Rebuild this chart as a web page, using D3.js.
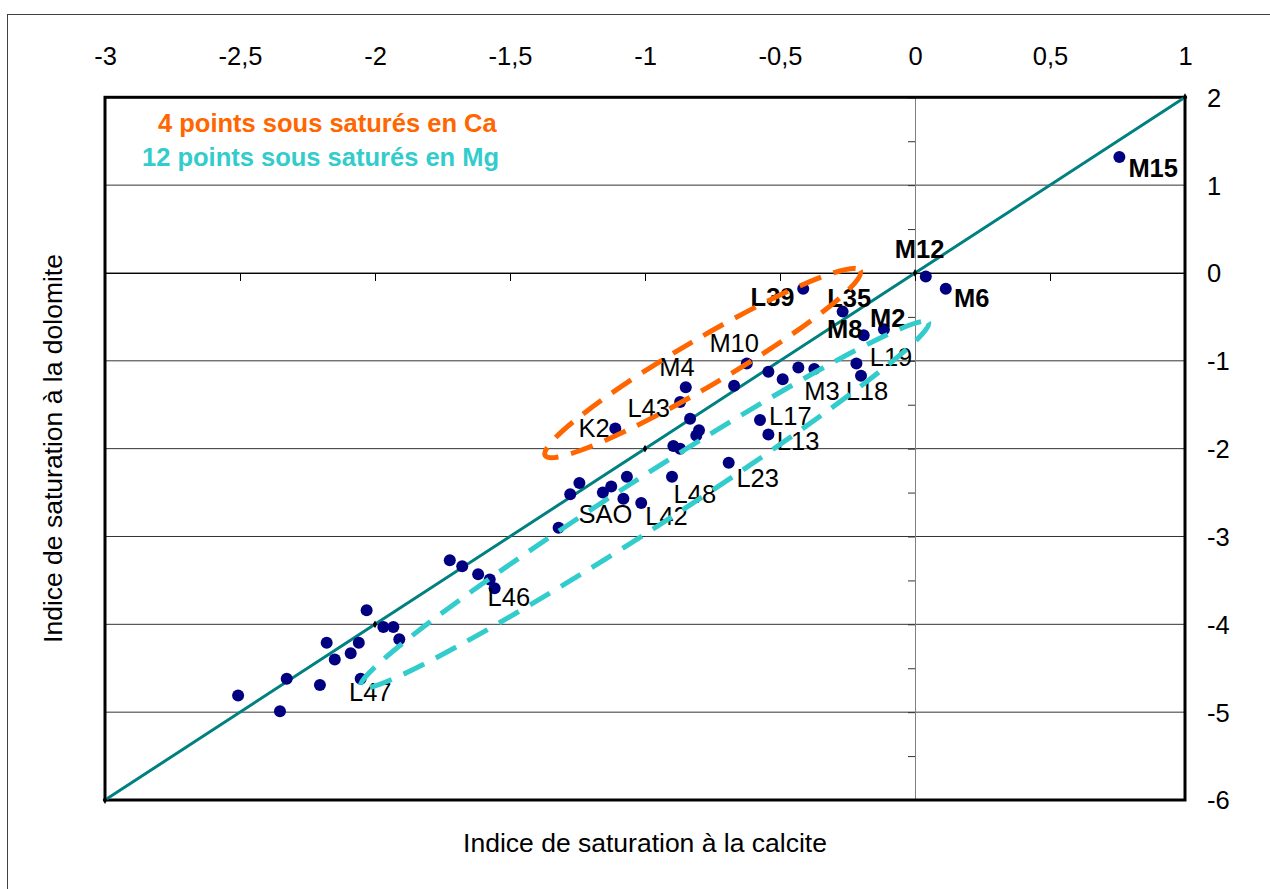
<!DOCTYPE html>
<html>
<head>
<meta charset="utf-8">
<script src="https://cdn.jsdelivr.net/npm/d3@7"></script>
<style>
  html, body { margin: 0; padding: 0; background: #fff; }
  svg { display: block; font-family: Arial, "Liberation Sans", sans-serif; }
</style>
</head>
<body>
<svg id="chart" width="1270" height="889"></svg>
<script>
// ---------------- data ----------------
const calcite = [0.757, 0.04, 0.114, -0.414, -0.268, -0.19, -0.115, -0.217, -0.2, -0.373,
  -0.432, -0.49, -0.543, -0.623, -0.67, -0.849, -0.87, -0.833, -0.80, -0.81,
  -0.895, -0.87, -1.11, -0.574, -0.543, -0.69, -0.90, -1.067, -1.125, -1.156,
  -1.243, -1.277, -1.08, -1.014, -1.32, -1.723, -1.677, -1.618, -1.575, -1.557,
  -2.031, -1.969, -1.932, -1.91, -2.06, -2.179, -2.09, -2.149, -2.327, -2.053,
  -2.204, -2.507, -2.352];
const dolomite = [1.32, -0.04, -0.18, -0.18, -0.44, -0.71, -0.64, -1.03, -1.17, -1.094,
  -1.075, -1.21, -1.125, -1.03, -1.284, -1.30, -1.47, -1.66, -1.79, -1.85,
  -1.97, -2.0, -1.77, -1.675, -1.84, -2.16, -2.32, -2.32, -2.43, -2.5,
  -2.39, -2.52, -2.57, -2.62, -2.90, -3.27, -3.34, -3.43, -3.49, -3.59,
  -3.84, -4.03, -4.03, -4.17, -4.21, -4.21, -4.33, -4.40, -4.62, -4.62,
  -4.69, -4.81, -4.99];
const pointLabels = ["M15", "M12", "M6", "L39", "L35", "M8", "M2", "L19", "L18", "M3",
  "", "", "", "M10", "", "M4", "L43", "", "", "",
  "", "", "K2", "L17", "L13", "L23", "L48", "", "", "SAO",
  "", "", "", "L42", "", "", "", "", "", "L46",
  "", "", "", "", "", "", "", "", "", "L47",
  "", "", ""];
const boldLabels = ["M15", "M12", "M6", "L39", "L35", "M8", "M2"];

// 1:1 reference line (dolomite = 2 x calcite)
const refLineX = [-3, -2, -1, 0, 1];
const refLineY = [-6, -4, -2, 0, 2];

const xTicks = [-3, -2.5, -2, -1.5, -1, -0.5, 0, 0.5, 1];
const yTicks = [-6, -5, -4, -3, -2, -1, 0, 1, 2];
const yMinorTicks = [-6, -5.5, -5, -4.5, -4, -3.5, -3, -2.5, -2, -1.5, -1, -0.5, 0, 0.5, 1, 1.5, 2];

const xTitle = "Indice de saturation à la calcite";
const yTitle = "Indice de saturation à la dolomite";
const noteCa = "4 points sous saturés en Ca";
const noteMg = "12 points sous saturés en Mg";

// enclosing dashed ellipses, tips given in data units
const ellipseCaTips = [[-1.367, -2.093], [-0.2, 0.012]];
const ellipseMgTips = [[-2.048, -4.745], [0.056, -0.591]];

// ---------------- layout ----------------
const labelOffsets = {
  M15: [9, 20.3], M12: [-31, -18.7], M6: [8.3, 18.3], L39: [-52.6, 17.7],
  L35: [-15.4, -5], M8: [-36.6, 2.7], M2: [-14, -2.6], M10: [-37.4, -11.6],
  M4: [-26.4, -11.6], L43: [-52.7, 15], K2: [-36.7, 8.4], L17: [9, 5],
  L13: [8.4, 15.7], M3: [-10, 31], L18: [-15.3, 24.3], L19: [13.3, 2.7],
  L23: [7.7, 24.4], L48: [1.6, 26.6], SAO: [-24.4, 30.6], L42: [4, 21.7],
  L46: [-7, 18], L47: [-11.7, 22.4]
};

const svg = d3.select("#chart");
const plot = { left: 105, right: 1185, top: 97.3, bottom: 800 };
const x = d3.scaleLinear().domain([-3, 1]).range([plot.left, plot.right]);
const y = d3.scaleLinear().domain([-6, 2]).range([plot.bottom, plot.top]);
const fmt = d => String(d).replace(".", ",");
const FS = 25.5;

// outer frame
svg.append("rect").attr("x", 7.5).attr("y", 14.5).attr("width", 1400).attr("height", 1000)
  .attr("fill", "none").attr("stroke", "#404040").attr("stroke-width", 1);

// horizontal gridlines
svg.append("g").selectAll("line").data(yTicks).join("line")
  .attr("x1", plot.left).attr("x2", plot.right)
  .attr("y1", d => y(d)).attr("y2", d => y(d))
  .attr("stroke", "#333").attr("stroke-width", 1);

// vertical axis at x = 0 with ticks
const yAxisG = svg.append("g").attr("transform", `translate(${x(0)},0)`)
  .call(d3.axisLeft(y).tickValues(yMinorTicks).tickSize(7).tickFormat(""));
yAxisG.select(".domain").attr("stroke", "#808080");
yAxisG.selectAll(".tick line").attr("stroke", "#333");

// horizontal axis at y = 0 with ticks downward
const xAxisG = svg.append("g").attr("transform", `translate(0,${y(0)})`)
  .call(d3.axisBottom(x).tickValues(xTicks).tickSize(8).tickFormat(""));
xAxisG.select(".domain").attr("stroke", "#000");
xAxisG.selectAll(".tick line").attr("stroke", "#000");

// tick labels, top (x) and right (y)
const xLab = svg.append("g").attr("transform", "translate(0,65)")
  .call(d3.axisTop(x).tickValues(xTicks).tickSize(0).tickPadding(0).tickFormat(fmt));
xLab.select(".domain").remove();
xLab.selectAll("text").attr("font-size", FS).attr("font-family", "Arial, 'Liberation Sans', sans-serif")
  .attr("fill", "#000").attr("dy", 0);

const yLab = svg.append("g").attr("transform", "translate(1207,0)")
  .call(d3.axisRight(y).tickValues(yTicks).tickSize(0).tickPadding(0).tickFormat(fmt));
yLab.select(".domain").remove();
yLab.selectAll("text").attr("font-size", FS).attr("font-family", "Arial, 'Liberation Sans', sans-serif")
  .attr("fill", "#000").attr("dy", "0.35em");

// plot border
svg.append("rect").attr("x", plot.left).attr("y", plot.top)
  .attr("width", plot.right - plot.left).attr("height", plot.bottom - plot.top)
  .attr("fill", "none").attr("stroke", "#000").attr("stroke-width", 3);

// reference line
const refData = refLineX.map((v, i) => [v, refLineY[i]]);
svg.append("path").datum(refData)
  .attr("d", d3.line().x(d => x(d[0])).y(d => y(d[1])))
  .attr("fill", "none").attr("stroke", "#008080").attr("stroke-width", 3);
svg.append("g").selectAll("path").data(refData).join("path")
  .attr("transform", d => `translate(${x(d[0])},${y(d[1])})`)
  .attr("d", d3.symbol(d3.symbolDiamond, 18))
  .attr("fill", "#000");

// points
const pts = calcite.map((v, i) => ({ x: v, y: dolomite[i], label: pointLabels[i] }));
svg.append("g").selectAll("circle").data(pts).join("circle")
  .attr("cx", d => x(d.x)).attr("cy", d => y(d.y)).attr("r", 6)
  .attr("fill", "#000080");

// point labels
svg.append("g").selectAll("text").data(pts.filter(d => d.label)).join("text")
  .attr("x", d => x(d.x) + labelOffsets[d.label][0])
  .attr("y", d => y(d.y) + labelOffsets[d.label][1])
  .attr("font-size", FS)
  .attr("font-weight", d => boldLabels.includes(d.label) ? "bold" : "normal")
  .attr("fill", "#000")
  .text(d => d.label);

// dashed ellipses
function drawEllipse(tips, halfWidth, shift, color) {
  const [p1, p2] = tips.map(t => [x(t[0]), y(t[1])]);
  const dx = p2[0] - p1[0], dy = p2[1] - p1[1];
  const len = Math.hypot(dx, dy);
  const ang = Math.atan2(dy, dx) * 180 / Math.PI;
  const nx = -dy / len, ny = dx / len;
  const cx = (p1[0] + p2[0]) / 2 + nx * shift;
  const cy = (p1[1] + p2[1]) / 2 + ny * shift;
  svg.append("ellipse")
    .attr("cx", 0).attr("cy", 0).attr("rx", len / 2).attr("ry", halfWidth)
    .attr("transform", `translate(${cx},${cy}) rotate(${ang})`)
    .attr("fill", "none").attr("stroke", color).attr("stroke-width", 5)
    .attr("stroke-dasharray", "23 13");
}
drawEllipse(ellipseCaTips, 23.5, -1.5, "#FF6600");
drawEllipse(ellipseMgTips, 25, -3, "#33CCCC");

// notes
svg.append("text").attr("x", 158).attr("y", 132).attr("font-size", FS).attr("font-weight", "bold")
  .attr("fill", "#FF6600").text(noteCa);
svg.append("text").attr("x", 142).attr("y", 165.5).attr("font-size", FS).attr("font-weight", "bold")
  .attr("fill", "#33CCCC").text(noteMg);

// axis titles
svg.append("text").attr("x", 645).attr("y", 852).attr("text-anchor", "middle")
  .attr("font-size", 26.5).attr("fill", "#000").text(xTitle);
svg.append("text").attr("transform", `translate(62,448.5) rotate(-90)`).attr("text-anchor", "middle")
  .attr("font-size", 26.5).attr("fill", "#000").text(yTitle);
</script>
</body>
</html>
